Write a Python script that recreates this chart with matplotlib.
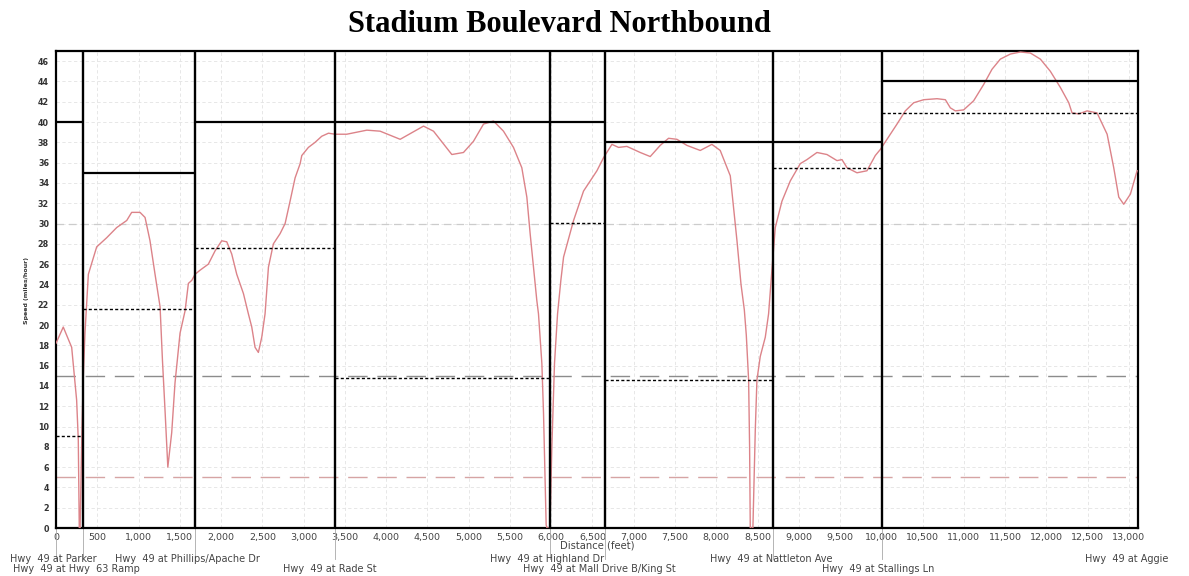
import matplotlib
matplotlib.use("Agg")
import matplotlib.pyplot as plt
from matplotlib.ticker import FuncFormatter
import matplotlib.transforms as mtransforms

# ---------------- data ----------------
distance_ft = [0, 88, 190, 250, 270, 282, 292, 315, 331, 351, 392, 493, 614, 735, 857, 917,
               1018, 1079, 1139, 1200, 1261, 1290, 1321, 1355, 1402, 1442, 1503, 1564, 1604,
               1645, 1685, 1745, 1846, 1927, 2008, 2069, 2129, 2190, 2271, 2331, 2372, 2412,
               2452, 2493, 2533, 2574, 2634, 2715, 2776, 2836, 2897, 2958, 2978, 3058, 3139,
               3220, 3301, 3382, 3523, 3766, 3927, 4170, 4453, 4574, 4796, 4937, 5058, 5180,
               5301, 5422, 5543, 5644, 5705, 5745, 5786, 5826, 5846, 5887, 5907, 5927, 5939,
               5950, 5985, 6008, 6040, 6077, 6117, 6150, 6271, 6392, 6473, 6554, 6635, 6736,
               6816, 6917, 7079, 7200, 7321, 7422, 7523, 7644, 7806, 7947, 8048, 8170, 8251,
               8300, 8340, 8364, 8392, 8404, 8412, 8444, 8473, 8493, 8533, 8594, 8634, 8675,
               8715, 8796, 8897, 9018, 9099, 9220, 9341, 9463, 9523, 9584, 9705, 9826, 9927,
               9988, 10069, 10190, 10291, 10392, 10513, 10675, 10776, 10836, 10897, 10998,
               11119, 11240, 11341, 11442, 11564, 11685, 11806, 11927, 12048, 12170, 12271,
               12311, 12392, 12493, 12614, 12736, 12816, 12877, 12937, 13018, 13099]
speed_mph = [18.2, 19.8, 17.8, 12.6, 8.7, 0.0, 0.0, 10.0, 15.0, 19.2, 25.0, 27.7, 28.6, 29.6,
             30.3, 31.1, 31.1, 30.6, 28.3, 25.0, 21.8, 16.5, 11.6, 6.0, 9.4, 14.3, 19.2, 21.4,
             24.1, 24.4, 25.0, 25.4, 26.0, 27.3, 28.3, 28.2, 27.0, 25.0, 23.1, 21.1, 19.8, 17.8,
             17.3, 18.8, 21.1, 25.7, 28.0, 29.0, 30.0, 32.2, 34.5, 35.9, 36.7, 37.5, 38.0, 38.6,
             38.9, 38.8, 38.8, 39.2, 39.1, 38.3, 39.6, 39.1, 36.8, 37.0, 38.1, 39.8, 40.1, 39.1,
             37.5, 35.5, 32.6, 29.0, 25.7, 22.4, 21.1, 16.2, 11.3, 4.7, 0.3, 0.0, 0.0, 8.0, 16.2,
             21.1, 24.4, 26.7, 30.3, 33.2, 34.2, 35.2, 36.5, 37.8, 37.5, 37.6, 37.0, 36.6, 37.7,
             38.4, 38.3, 37.7, 37.2, 37.8, 37.2, 34.7, 28.3, 24.0, 21.5, 19.0, 14.6, 8.0, 0.0,
             0.0, 9.7, 14.6, 16.9, 18.8, 21.1, 25.5, 29.6, 32.2, 34.2, 35.9, 36.3, 37.0, 36.8,
             36.2, 36.3, 35.5, 35.0, 35.2, 36.7, 37.3, 38.3, 39.8, 41.1, 41.9, 42.2, 42.3, 42.2,
             41.4, 41.1, 41.2, 42.1, 43.7, 45.2, 46.2, 46.7, 46.9, 46.8, 46.2, 45.0, 43.4, 41.9,
             40.9, 40.8, 41.1, 40.9, 38.8, 35.5, 32.6, 31.9, 32.9, 35.2]

segment_bounds_ft = [0, 324, 1685, 3382, 5988, 6655, 8691, 10012, 13110]
speed_limit_mph = [40, 35, 40, 40, 40, 38, 38, 44]
average_speed_mph = [9.1, 21.6, 27.6, 14.8, 30.1, 14.6, 35.5, 40.9]
reference_speeds_mph = [30, 15, 5]

intersections_row1 = ["Hwy  49 at Parker", "Hwy  49 at Phillips/Apache Dr", "Hwy  49 at Highland Dr",
                      "Hwy  49 at Nattleton Ave", "Hwy  49 at Aggie"]
intersections_row2 = ["Hwy  49 at Hwy  63 Ramp", "Hwy  49 at Rade St",
                      "Hwy  49 at Mall Drive B/King St", "Hwy  49 at Stallings Ln"]

x_ticks = list(range(0, 13001, 500))
y_ticks = list(range(0, 47, 2))

# ---------------- layout ----------------
W, H, DPI = 1189, 576, 100
fig = plt.figure(figsize=(W / DPI, H / DPI), dpi=DPI)
ax = fig.add_axes([56 / W, 1 - 528 / H, (1138 - 56) / W, (528 - 51) / H])
ax.set_xlim(0, 13110)
ax.set_ylim(0, 47)

# grid
ax.set_xticks(x_ticks)
ax.set_yticks(y_ticks)
ax.grid(True, color="#e3e3e3", linestyle=(0, (4, 3)), linewidth=0.6)
ax.set_axisbelow(True)

# reference dashed lines
ax.axhline(reference_speeds_mph[0], color="#cccccc", linestyle=(0, (6, 4)), linewidth=0.9, zorder=1)
ax.axhline(reference_speeds_mph[1], color="#8c8c8c", linestyle=(0, (14, 7)), linewidth=1.0, zorder=1)
ax.axhline(reference_speeds_mph[2], color="#d6a4a4", linestyle=(0, (14, 7)), linewidth=1.0, zorder=1)

# speed curve
ax.plot(distance_ft, speed_mph, color="#dc8389", linewidth=1.0, zorder=3)

# segment structure
for i in range(len(speed_limit_mph)):
    x0, x1 = segment_bounds_ft[i], segment_bounds_ft[i + 1]
    ax.plot([x0, x1], [speed_limit_mph[i]] * 2, color="black", linewidth=1.6, zorder=4,
            solid_capstyle="butt")
    ax.plot([x0, x1], [average_speed_mph[i]] * 2, color="black", linewidth=1.0,
            linestyle=(0, (2.2, 1.6)), zorder=4)

trans = mtransforms.blended_transform_factory(ax.transData, ax.transAxes)
for b in segment_bounds_ft[1:-1]:
    ax.axvline(b, color="black", linewidth=1.7, zorder=4)
for b in segment_bounds_ft[:-1]:
    ax.plot([b, b], [0, -0.065], color="#a8a8a8", linewidth=0.6, transform=trans, clip_on=False)

for s in ax.spines.values():
    s.set_linewidth(1.6)
    s.set_color("black")

ax.xaxis.set_major_formatter(FuncFormatter(lambda v, p: f"{int(v):,}"))
ax.tick_params(axis="both", length=0)
ax.tick_params(axis="x", labelsize=6.8, labelcolor="#444444", pad=3.5)
ax.tick_params(axis="y", labelsize=5.8, labelcolor="#333333", pad=5)
for lab in ax.get_yticklabels():
    lab.set_fontweight("bold")

ax.set_xlabel("Distance (feet)", fontsize=7.2, color="#444444", labelpad=-1)
fig.text(27 / W, 1 - 290 / H, "Speed (miles/hour)", rotation=90, fontsize=4.5,
         color="#333333", ha="center", va="center", fontweight="bold")

fig.text(559 / W, 1 - 25 / H, "Stadium Boulevard Northbound", fontsize=22,
         family="Liberation Serif", fontweight="bold", ha="center", va="center")

row1_x_px = [10, 115, 490, 710, 1085]
row2_x_px = [13, 283, 523, 822]
for name, px in zip(intersections_row1, row1_x_px):
    fig.text(px / W, 1 - 559.5 / H, name, fontsize=7.0, color="#444444", ha="left", va="center")
for name, px in zip(intersections_row2, row2_x_px):
    fig.text(px / W, 1 - 569 / H, name, fontsize=7.0, color="#444444", ha="left", va="center")

fig.savefig("out.png", dpi=DPI)
